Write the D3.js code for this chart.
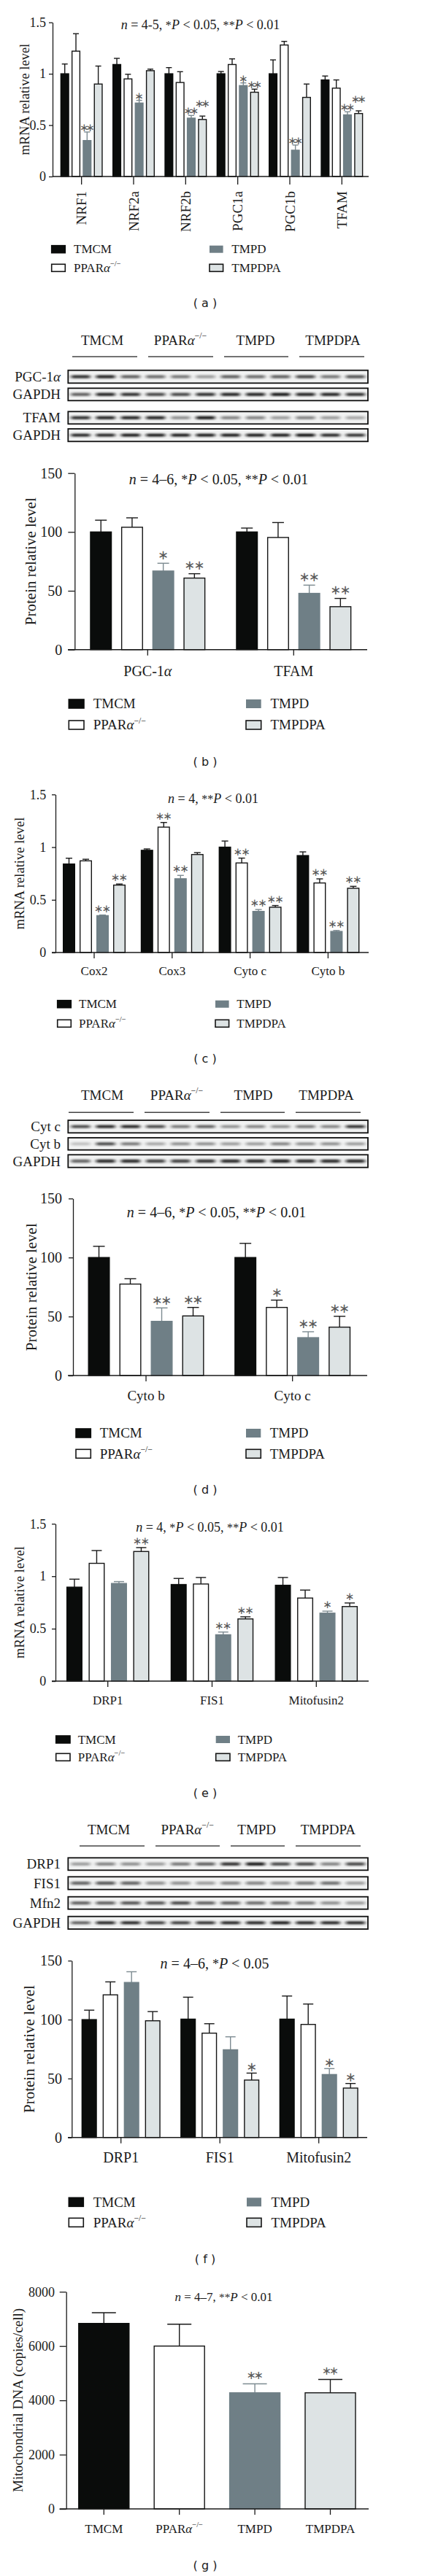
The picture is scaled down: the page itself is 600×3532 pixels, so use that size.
<!DOCTYPE html>
<html><head><meta charset="utf-8">
<script src="https://cdn.jsdelivr.net/npm/d3@7"></script>
<style>body{margin:0;background:#fff} svg{display:block}</style>
</head><body>
<svg id="fig" width="600" height="3532"></svg>
<script>
// ---------- shared ----------
const groups = ["TMCM", "PPARα−/−", "TMPD", "TMPDPA"];

// ---------- (a) mRNA, biogenesis ----------
const catsA = ["NRF1", "NRF2a", "NRF2b", "PGC1a", "PGC1b", "TFAM"];
const aTMCM = [1.00, 1.09, 1.00, 1.00, 1.00, 0.94];
const aTMCMsem = [0.095, 0.06, 0.06, 0.022, 0.135, 0.038];
const aPPAR = [1.22, 0.95, 0.915, 1.09, 1.28, 0.86];
const aPPARsem = [0.17, 0.045, 0.105, 0.055, 0.035, 0.08];
const aTMPD = [0.35, 0.715, 0.568, 0.885, 0.256, 0.60];
const aTMPDsem = [0.083, 0.026, 0.026, 0.026, 0.05, 0.03];
const aTMPDPA = [0.90, 1.03, 0.555, 0.82, 0.77, 0.613];
const aTMPDPAsem = [0.175, 0.015, 0.033, 0.03, 0.13, 0.026];
const aStarsTMPD = ["**", "*", "**", "*", "**", "**"];
const aStarsTMPDPA = ["", "", "**", "**", "", "**"];
const aTicks = [0, 0.5, 1, 1.5];

// ---------- (b) protein PGC-1α / TFAM ----------
const catsB = ["PGC-1α", "TFAM"];
const bTMCM = [100, 100], bTMCMsem = [10, 3.3];
const bPPAR = [104, 95.3], bPPARsem = [8, 12.7];
const bTMPD = [66.8, 47.8], bTMPDsem = [6.6, 7];
const bTMPDPA = [60.8, 36.5], bTMPDPAsem = [3.7, 7];
const bStarsTMPD = ["*", "**"], bStarsTMPDPA = ["**", "**"];
const protTicks = [0, 50, 100, 150];
const blotB = [
  {label: "PGC-1α", bands: [0.8, 0.85, 0.6, 0.55, 0.5, 0.35, 0.6, 0.55, 0.6, 0.7, 0.5, 0.65]},
  {label: "GAPDH", bands: [0.6, 0.85, 0.8, 0.7, 0.7, 0.8, 0.85, 0.85, 0.9, 0.85, 0.85, 0.8]},
  {label: "TFAM", bands: [0.8, 0.85, 0.85, 0.85, 0.4, 0.9, 0.45, 0.45, 0.35, 0.45, 0.35, 0.3]},
  {label: "GAPDH", bands: [0.85, 0.85, 0.9, 0.9, 0.9, 0.9, 0.9, 0.9, 0.9, 0.95, 0.85, 0.8]}
];

// ---------- (c) mRNA, respiratory chain ----------
const catsC = ["Cox2", "Cox3", "Cyto c", "Cyto b"];
const cTMCM = [0.84, 0.97, 1.00, 0.92], cTMCMsem = [0.055, 0.013, 0.058, 0.035];
const cPPAR = [0.87, 1.19, 0.85, 0.66], cPPARsem = [0.015, 0.044, 0.046, 0.039];
const cTMPD = [0.35, 0.70, 0.39, 0.20], cTMPDsem = [0.006, 0.032, 0.018, 0.009];
const cTMPDPA = [0.64, 0.93, 0.43, 0.61], cTMPDPAsem = [0.01, 0.018, 0.016, 0.018];
const cStarsPPAR = ["", "**", "**", "**"];
const cStarsTMPD = ["**", "**", "**", "**"];
const cStarsTMPDPA = ["**", "", "**", "**"];

// ---------- (d) protein Cyto b / Cyto c ----------
const catsD = ["Cyto b", "Cyto c"];
const dTMCM = [100, 100], dTMCMsem = [9.5, 12];
const dPPAR = [77.5, 57.7], dPPARsem = [4.5, 6.2];
const dTMPD = [45.9, 32.1], dTMPDsem = [11.4, 5];
const dTMPDPA = [50.5, 41], dTMPDPAsem = [7.2, 9.2];
const dStarsPPAR = ["", "*"], dStarsTMPD = ["**", "**"], dStarsTMPDPA = ["**", "**"];
const blotD = [
  {label: "Cyt c", bands: [0.7, 0.85, 0.85, 0.7, 0.5, 0.6, 0.4, 0.45, 0.4, 0.5, 0.45, 0.8]},
  {label: "Cyt b", bands: [0.2, 0.7, 0.5, 0.3, 0.4, 0.4, 0.35, 0.35, 0.45, 0.4, 0.4, 0.35]},
  {label: "GAPDH", bands: [0.6, 0.85, 0.85, 0.75, 0.75, 0.8, 0.85, 0.85, 0.9, 0.85, 0.85, 0.85]}
];

// ---------- (e) mRNA, dynamics ----------
const catsE = ["DRP1", "FIS1", "Mitofusin2"];
const eTMCM = [0.896, 0.921, 0.914], eTMCMsem = [0.076, 0.058, 0.074];
const ePPAR = [1.123, 0.926, 0.792], ePPARsem = [0.122, 0.062, 0.076];
const eTMPD = [0.931, 0.442, 0.648], eTMPDsem = [0.018, 0.026, 0.019];
const eTMPDPA = [1.236, 0.593, 0.711], eTMPDPAsem = [0.037, 0.02, 0.034];
const eStarsTMPD = ["", "**", "*"], eStarsTMPDPA = ["**", "**", "*"];

// ---------- (f) protein, dynamics ----------
const catsF = ["DRP1", "FIS1", "Mitofusin2"];
const fTMCM = [100, 100.4, 100.4], fTMCMsem = [8, 18.6, 19.6];
const fPPAR = [121, 88.5, 95.9], fPPARsem = [11, 8, 17.3];
const fTMPD = [131.5, 74.4, 53.4], fTMPDsem = [9.1, 11, 5];
const fTMPDPA = [99, 48.7, 41.9], fTMPDPAsem = [7.8, 5.9, 3.9];
const fStarsTMPD = ["", "", "*"], fStarsTMPDPA = ["", "*", "*"];
const blotF = [
  {label: "DRP1", bands: [0.35, 0.45, 0.4, 0.35, 0.5, 0.6, 0.8, 0.9, 0.7, 0.7, 0.45, 0.7]},
  {label: "FIS1", bands: [0.6, 0.65, 0.6, 0.4, 0.4, 0.35, 0.45, 0.45, 0.4, 0.5, 0.55, 0.35]},
  {label: "Mfn2", bands: [0.6, 0.6, 0.65, 0.65, 0.7, 0.6, 0.6, 0.55, 0.55, 0.5, 0.4, 0.35]},
  {label: "GAPDH", bands: [0.6, 0.85, 0.85, 0.75, 0.75, 0.8, 0.85, 0.85, 0.9, 0.85, 0.85, 0.85]}
];

// ---------- (g) mtDNA ----------
const gValues = [6834, 6000, 4278, 4278];
const gSem = [395, 807, 332, 493];
const gStars = ["", "", "**", "**"];
const gTicks = [0, 2000, 4000, 6000, 8000];

// ================= drawing =================
const SERIF = "'Liberation Serif','Times New Roman',Times,serif";
const SANS = "'DejaVu Sans',Verdana,sans-serif";
const fills = ["#0a0c0b", "#ffffff", "#6f7f86", "#dde3e4"];
const strokes = ["#0a0c0b", "#151515", "#6f7f86", "#151515"];
const errCols = ["#1a1a1a", "#1a1a1a", "#7d8b91", "#1a1a1a"];
const INK = "#1a1a1a";
const svg = d3.select("#fig");
svg.append("rect").attr("width", 600).attr("height", 3532).attr("fill", "#fff");
const defs = svg.append("defs");
defs.append("filter").attr("id", "blur").attr("x", "-30%").attr("y", "-200%").attr("width", "160%").attr("height", "500%")
  .append("feGaussianBlur").attr("stdDeviation", "2.4 1.1");

// measure advance of one star glyph at 1px
const starAdv = (() => {
  const t = svg.append("text").attr("font-family", SANS).attr("font-size", 100).text("∗");
  const w = t.node().getComputedTextLength() / 100;
  t.remove();
  return w || 0.84;
})();

function rich(t, str) {
  const k = str.indexOf("α");
  if (k < 0) { t.text(str); return; }
  t.append("tspan").text(str.slice(0, k));
  t.append("tspan").attr("font-style", "italic").text("α");
  const rest = str.slice(k + 1);
  if (rest) t.append("tspan").attr("font-size", "0.62em").attr("dy", "-0.75em").text(rest);
}

function titleText(x, y, fs, markup) {
  const t = svg.append("text").attr("x", x).attr("y", y).attr("text-anchor", "middle")
    .attr("font-family", SERIF).attr("font-size", fs).attr("fill", INK);
  markup.split(/(_[^_]+_|\^[^^]+\^)/).filter(s => s).forEach(s => {
    if (s[0] === "_") t.append("tspan").attr("font-style", "italic").text(s.slice(1, -1));
    else if (s[0] === "^") t.append("tspan").attr("font-size", "0.9em").text(s.slice(1, -1));
    else t.append("tspan").text(s);
  });
}

function yLabel(x, cy, fs, str) {
  svg.append("text").attr("transform", `translate(${x},${cy}) rotate(-90)`).attr("text-anchor", "middle")
    .attr("font-family", SERIF).attr("font-size", fs).attr("fill", INK).text(str);
}

function panelLabel(cy, str) {
  svg.append("text").attr("x", 281).attr("y", cy + 6).attr("text-anchor", "middle")
    .attr("font-family", SANS).attr("font-size", 16).attr("fill", INK).attr("xml:space", "preserve").text(str);
}

function legend(p) {
  const cols = [p.c1, p.c1, p.c2, p.c2];
  const rows = [p.r1, p.r2, p.r1, p.r2];
  groups.forEach((gname, i) => {
    svg.append("rect").attr("x", cols[i]).attr("y", rows[i] - p.sh / 2).attr("width", p.sw).attr("height", p.sh)
      .attr("fill", fills[i]).attr("stroke", i === 2 ? "none" : strokes[i]).attr("stroke-width", 1.6);
    const t = svg.append("text").attr("x", cols[i] + p.tx).attr("y", rows[i] + p.fs * 0.34)
      .attr("font-family", SERIF).attr("font-size", p.fs).attr("fill", INK);
    rich(t, gname);
  });
}

function blot(p) {
  const g = svg.append("g");
  groups.forEach((gname, i) => {
    const t = g.append("text").attr("x", p.hx[i]).attr("y", p.hy).attr("text-anchor", "middle")
      .attr("font-family", SERIF).attr("font-size", 19).attr("fill", INK);
    rich(t, gname);
    g.append("line").attr("x1", p.ul[i][0]).attr("x2", p.ul[i][1]).attr("y1", p.uy).attr("y2", p.uy)
      .attr("stroke", "#444").attr("stroke-width", 1.4);
  });
  const lane = d3.scaleBand().domain(d3.range(12)).range([p.bx0, p.bx1]);
  p.rows.forEach((r, k) => {
    const [y0, y1] = p.boxes[k];
    const cy = (y0 + y1) / 2;
    g.append("rect").attr("x", p.bx0).attr("y", y0).attr("width", p.bx1 - p.bx0).attr("height", y1 - y0)
      .attr("fill", "#f1f2f2");
    g.selectAll(null).data(r.bands).join("rect")
      .attr("x", (d, i) => lane(i) + 4).attr("width", lane.bandwidth() - 8)
      .attr("y", cy - 2.2).attr("height", 4.4).attr("rx", 2)
      .attr("fill", "#111").attr("opacity", d => d).attr("filter", "url(#blur)");
    g.append("rect").attr("x", p.bx0).attr("y", y0).attr("width", p.bx1 - p.bx0).attr("height", y1 - y0)
      .attr("fill", "none").attr("stroke", "#111").attr("stroke-width", 1.8);
    const t = g.append("text").attr("x", 83).attr("y", cy + 6.5).attr("text-anchor", "end")
      .attr("font-family", SERIF).attr("font-size", 19).attr("fill", INK);
    rich(t, r.label);
  });
}

function axes(p, x, y) {
  const ya = svg.append("g").attr("transform", `translate(${p.yAxisX},0)`)
    .call(d3.axisLeft(y).tickValues(p.ticks).tickSize(p.tickLen).tickSizeOuter(0).tickPadding(p.tickPad).tickFormat(d => d));
  ya.attr("font-family", SERIF).attr("font-size", p.tickFs).attr("color", INK);
  ya.selectAll("line,path").attr("stroke-width", 1.3);
  const xa = svg.append("g").attr("transform", `translate(0,${p.y0})`)
    .call(d3.axisBottom(x).tickSize(p.xTickLen).tickSizeOuter(0));
  xa.attr("font-family", SERIF).attr("font-size", p.catFs).attr("color", INK);
  xa.select(".domain").remove();
  xa.selectAll("line").attr("stroke-width", 1.3);
  xa.selectAll("text").each(function (d) { const t = d3.select(this); t.text(null); rich(t, d); });
  if (p.rotate) {
    xa.selectAll("text").attr("transform", "rotate(-90)").attr("x", -(p.catY - p.y0)).attr("y", 0)
      .attr("dy", "0.35em").attr("text-anchor", "end");
  } else {
    xa.selectAll("text").attr("y", p.catY - p.y0).attr("dy", 0);
  }
  svg.append("line").attr("x1", p.xl0).attr("x2", p.xl1).attr("y1", p.y0).attr("y2", p.y0)
    .attr("stroke", INK).attr("stroke-width", 1.4);
}

// star annotations: lifted when they would collide with the neighbour's stars
function placeStars(g, list, p) {
  let prev = null;
  list.forEach(s => {
    if (!s.str) { prev = null; return; }
    const n = s.str.length;
    let cy = s.yTop - p.starGap;
    if (prev) {
      const need = (n + prev.n) * p.starSp / 2 + 0.5;
      if (Math.abs(s.cx - prev.cx) < need && Math.abs(cy - prev.cy) < p.starFs * 0.6)
        cy = prev.cy - p.starFs * 0.72;
    }
    const adv = starAdv * p.starFs;
    g.append("text").attr("x", s.cx).attr("y", cy).attr("dx", -(adv - p.starSp) / 2)
      .attr("text-anchor", "middle").attr("dominant-baseline", "central")
      .attr("letter-spacing", p.starSp - adv)
      .attr("font-family", SANS).attr("font-size", p.starFs).attr("fill", "#5a5a5a")
      .text("∗".repeat(n));
    prev = {cx: s.cx, cy, n};
  });
}

function barPanel(p) {
  const y = d3.scaleLinear().domain([0, p.yMax]).range([p.y0, p.yTop]);
  const x = d3.scaleBand().domain(p.cats).range([p.x0, p.x1]);
  const pad = 1 - p.barW / p.step;
  const inner = d3.scaleBand().domain(groups).range([-2 * p.step, 2 * p.step]).paddingInner(pad).paddingOuter(pad / 2);
  const g = svg.append("g");
  const starG = svg.append("g");
  const starLists = p.cats.map(() => []);
  p.series.forEach((s, i) => {
    const data = p.cats.map((c, j) => ({c, j, m: s.mean[j], e: s.sem[j], st: s.stars ? s.stars[j] : ""}));
    const cx = d => x(d.c) + x.bandwidth() / 2 + inner(groups[i]) + inner.bandwidth() / 2;
    g.selectAll(null).data(data).join("line")
      .attr("x1", cx).attr("x2", cx).attr("y1", d => y(d.m)).attr("y2", d => y(d.m + d.e))
      .attr("stroke", errCols[i]).attr("stroke-width", 1.4);
    g.selectAll(null).data(data).join("line")
      .attr("x1", d => cx(d) - p.capW / 2).attr("x2", d => cx(d) + p.capW / 2)
      .attr("y1", d => y(d.m + d.e)).attr("y2", d => y(d.m + d.e))
      .attr("stroke", errCols[i]).attr("stroke-width", 1.4);
    g.selectAll(null).data(data).join("rect")
      .attr("x", d => cx(d) - inner.bandwidth() / 2).attr("width", inner.bandwidth())
      .attr("y", d => y(d.m)).attr("height", d => y(0) - y(d.m))
      .attr("fill", fills[i]).attr("stroke", strokes[i]).attr("stroke-width", 1.4);
    data.forEach(d => starLists[d.j].push({cx: cx(d), yTop: y(d.m + d.e), str: d.st}));
  });
  starLists.forEach(l => placeStars(starG, l, p));
  axes(p, x, y);
}

// ---------- (a) ----------
titleText(274.5, 40, 18, "_n_ = 4-5, ^*^_P_ < 0.05, ^**^_P_ < 0.01");
barPanel({cats: catsA, yMax: 1.5, y0: 242, yTop: 30.7, x0: 76, x1: 504, step: 15.3, barW: 10.7, capW: 8,
  series: [{mean: aTMCM, sem: aTMCMsem}, {mean: aPPAR, sem: aPPARsem},
    {mean: aTMPD, sem: aTMPDsem, stars: aStarsTMPD}, {mean: aTMPDPA, sem: aTMPDPAsem, stars: aStarsTMPDPA}],
  ticks: aTicks, yAxisX: 72, tickLen: 5, tickPad: 4, tickFs: 18, xTickLen: 11, catFs: 19, catY: 262, rotate: true,
  xl0: 72, xl1: 505, starFs: 15, starGap: 6, starSp: 8.3});
yLabel(40, 136.3, 18.5, "mRNA relative level");
legend({c1: 70.7, c2: 287, r1: 341.7, r2: 367.3, sw: 18.6, sh: 10, tx: 30.3, fs: 17});
panelLabel(415, "( a )");

// ---------- (b) ----------
blot({hx: [140, 247, 350, 456], hy: 473.3, uy: 489, ul: [[99, 188], [203, 292], [307, 395], [410, 499]],
  bx0: 93.3, bx1: 504, boxes: [[507.7, 525.3], [532.3, 549.3], [564.3, 581.3], [588, 605.3]], rows: blotB});
titleText(299.5, 664, 20, "_n_ = 4–6, ^*^_P_ < 0.05, ^**^_P_ < 0.01");
barPanel({cats: catsB, yMax: 150, y0: 890.7, yTop: 648.7, x0: 102.3, x1: 502.3, step: 42.7, barW: 28.6, capW: 16,
  series: [{mean: bTMCM, sem: bTMCMsem}, {mean: bPPAR, sem: bPPARsem},
    {mean: bTMPD, sem: bTMPDsem, stars: bStarsTMPD}, {mean: bTMPDPA, sem: bTMPDPAsem, stars: bStarsTMPDPA}],
  ticks: protTicks, yAxisX: 102.3, tickLen: 9, tickPad: 8, tickFs: 20, xTickLen: 8, catFs: 20, catY: 927,
  xl0: 93, xl1: 503, starFs: 18, starGap: 12, starSp: 13.3});
yLabel(49, 769.7, 21, "Protein relative level");
legend({c1: 94.3, c2: 337, r1: 965, r2: 994, sw: 20.7, sh: 12, tx: 33.4, fs: 19});
panelLabel(1044, "( b )");

// ---------- (c) ----------
titleText(292, 1100.7, 18, "_n_ = 4, ^**^_P_ < 0.01");
barPanel({cats: catsC, yMax: 1.5, y0: 1306, yTop: 1089.3, x0: 75.6, x1: 502.8, step: 23, barW: 15.6, capW: 9,
  series: [{mean: cTMCM, sem: cTMCMsem}, {mean: cPPAR, sem: cPPARsem, stars: cStarsPPAR},
    {mean: cTMPD, sem: cTMPDsem, stars: cStarsTMPD}, {mean: cTMPDPA, sem: cTMPDPAsem, stars: cStarsTMPDPA}],
  ticks: aTicks, yAxisX: 76, tickLen: 5, tickPad: 7.7, tickFs: 18, xTickLen: 8, catFs: 17, catY: 1337,
  xl0: 71, xl1: 505, starFs: 15, starGap: 9, starSp: 10.7});
yLabel(33.3, 1197.6, 18.6, "mRNA relative level");
legend({c1: 78.7, c2: 295, r1: 1376.7, r2: 1403.3, sw: 18.6, sh: 10, tx: 29.3, fs: 17});
panelLabel(1450.7, "( c )");

// ---------- (d) ----------
blot({hx: [140, 242, 347, 447], hy: 1508, uy: 1525.3, ul: [[94, 183], [198, 287], [302, 390], [405, 494]],
  bx0: 93.3, bx1: 504, boxes: [[1536, 1553.3], [1560, 1576.7], [1583.3, 1600.7]], rows: blotD});
titleText(296.5, 1669.3, 20, "_n_ = 4–6, ^*^_P_ < 0.05, ^**^_P_ < 0.01");
barPanel({cats: catsD, yMax: 150, y0: 1886, yTop: 1643.3, x0: 99.7, x1: 501, step: 43, barW: 28.6, capW: 16,
  series: [{mean: dTMCM, sem: dTMCMsem}, {mean: dPPAR, sem: dPPARsem, stars: dStarsPPAR},
    {mean: dTMPD, sem: dTMPDsem, stars: dStarsTMPD}, {mean: dTMPDPA, sem: dTMPDPAsem, stars: dStarsTMPDPA}],
  ticks: protTicks, yAxisX: 100, tickLen: 6, tickPad: 9, tickFs: 20, xTickLen: 8, catFs: 19, catY: 1920,
  xl0: 93, xl1: 503, starFs: 18, starGap: 11, starSp: 12.7});
yLabel(50, 1764.7, 21, "Protein relative level");
legend({c1: 104, c2: 337, r1: 1965, r2: 1993.3, sw: 20.3, sh: 12, tx: 32.7, fs: 19});
panelLabel(2041.7, "( d )");

// ---------- (e) ----------
titleText(287.5, 2100, 18, "_n_ = 4, ^*^_P_ < 0.05, ^**^_P_ < 0.01");
barPanel({cats: catsE, yMax: 1.5, y0: 2305, yTop: 2089.3, x0: 76.3, x1: 504.7, step: 30.5, barW: 20.6, capW: 14,
  series: [{mean: eTMCM, sem: eTMCMsem}, {mean: ePPAR, sem: ePPARsem},
    {mean: eTMPD, sem: eTMPDsem, stars: eStarsTMPD}, {mean: eTMPDPA, sem: eTMPDPAsem, stars: eStarsTMPDPA}],
  ticks: aTicks, yAxisX: 76, tickLen: 5, tickPad: 7.7, tickFs: 18, xTickLen: 8, catFs: 17, catY: 2336.7,
  xl0: 71, xl1: 505, starFs: 15, starGap: 9, starSp: 10.7});
yLabel(33.3, 2197, 18.6, "mRNA relative level");
legend({c1: 76.7, c2: 295.7, r1: 2385, r2: 2409.3, sw: 19.3, sh: 10, tx: 30, fs: 17});
panelLabel(2457.7, "( e )");

// ---------- (f) ----------
blot({hx: [149, 256.7, 351.7, 449.3], hy: 2515, uy: 2531, ul: [[109, 198], [213, 301], [316, 390], [405, 494]],
  bx0: 93.3, bx1: 504, boxes: [[2547.3, 2564.3], [2573.3, 2590.7], [2600.7, 2617.7], [2627.7, 2645]], rows: blotF});
titleText(294, 2699.3, 20, "_n_ = 4–6, ^*^_P_ < 0.05");
barPanel({cats: catsF, yMax: 150, y0: 2930.7, yTop: 2688.3, x0: 97.95, x1: 504.45, step: 29, barW: 19.7, capW: 14,
  series: [{mean: fTMCM, sem: fTMCMsem}, {mean: fPPAR, sem: fPPARsem},
    {mean: fTMPD, sem: fTMPDsem, stars: fStarsTMPD}, {mean: fTMPDPA, sem: fTMPDPAsem, stars: fStarsTMPDPA}],
  ticks: protTicks, yAxisX: 98.3, tickLen: 5, tickPad: 8.3, tickFs: 20, xTickLen: 8, catFs: 20, catY: 2965,
  xl0: 93, xl1: 503, starFs: 18, starGap: 9, starSp: 12});
yLabel(47, 2809.5, 21, "Protein relative level");
legend({c1: 94.3, c2: 338, r1: 3019.3, r2: 3047.3, sw: 20, sh: 12, tx: 33.4, fs: 19});
panelLabel(3096.7, "( f )");

// ---------- (g) ----------
titleText(306.5, 3155, 17, "_n_ = 4–7, ^**^_P_ < 0.01");
(function () {
  const p = {yAxisX: 90.7, tickLen: 9, tickPad: 6.7, tickFs: 18, xTickLen: 8, catFs: 17, catY: 3472.7,
    y0: 3440, ticks: gTicks, xl0: 81.7, xl1: 505, starFs: 16, starGap: 12, starSp: 10};
  const y = d3.scaleLinear().domain([0, 8000]).range([3440, 3142.3]);
  const x = d3.scaleBand().domain(groups).range([90.6, 504.2]).paddingInner(1 - 69 / 103.4).paddingOuter((1 - 69 / 103.4) / 2);
  const g = svg.append("g");
  const data = groups.map((c, i) => ({c, i, m: gValues[i], e: gSem[i], st: gStars[i]}));
  const cx = d => x(d.c) + x.bandwidth() / 2;
  g.selectAll(null).data(data).join("line")
    .attr("x1", cx).attr("x2", cx).attr("y1", d => y(d.m)).attr("y2", d => y(d.m + d.e))
    .attr("stroke", d => errCols[d.i]).attr("stroke-width", 1.4);
  g.selectAll(null).data(data).join("line")
    .attr("x1", d => cx(d) - 16.5).attr("x2", d => cx(d) + 16.5).attr("y1", d => y(d.m + d.e)).attr("y2", d => y(d.m + d.e))
    .attr("stroke", d => errCols[d.i]).attr("stroke-width", 1.4);
  g.selectAll(null).data(data).join("rect")
    .attr("x", d => x(d.c)).attr("width", x.bandwidth()).attr("y", d => y(d.m)).attr("height", d => y(0) - y(d.m))
    .attr("fill", d => fills[d.i]).attr("stroke", d => strokes[d.i]).attr("stroke-width", 1.4);
  placeStars(svg.append("g"), data.map(d => ({cx: cx(d), yTop: y(d.m + d.e), str: d.st})), p);
  axes(p, x, y);
})();
yLabel(31, 3291, 19, "Mitochondrial DNA (copies/cell)");
panelLabel(3516.7, "( g )");
</script>
</body></html>
